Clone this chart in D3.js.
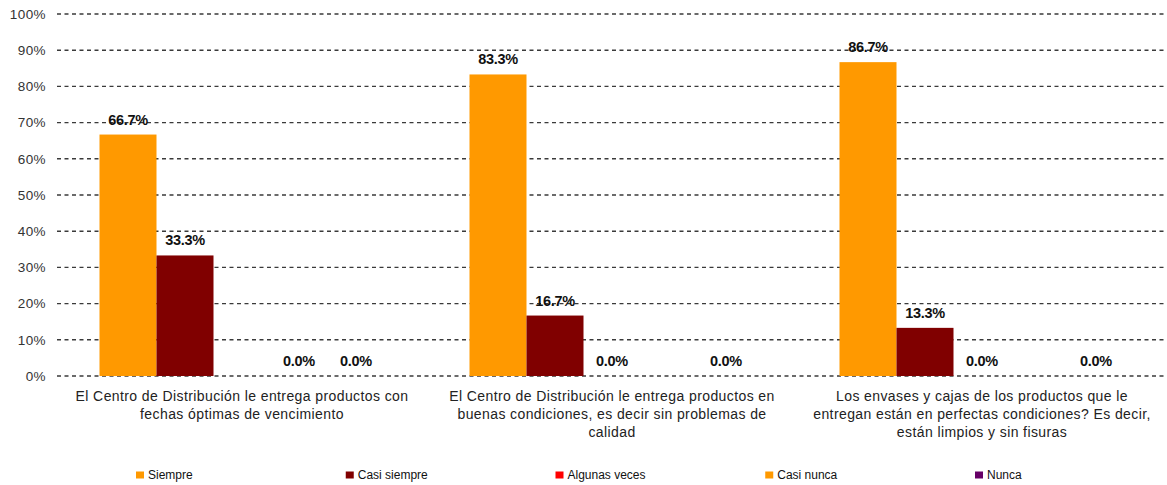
<!DOCTYPE html>
<html>
<head>
<meta charset="utf-8">
<script src="https://cdn.jsdelivr.net/npm/d3@7"></script>
<style>
  html, body { margin: 0; padding: 0; background: #fff; }
  svg { display: block; font-family: "Liberation Sans", Arial, sans-serif; }
</style>
</head>
<body>
<svg id="chart" width="1167" height="485"></svg>
<script>
// Questions (category labels, one entry per line)
const categories = [
  ["El Centro de Distribución le entrega productos con", "fechas óptimas de vencimiento"],
  ["El Centro de Distribución le entrega productos en", "buenas condiciones, es decir sin problemas de", "calidad"],
  ["Los envases y cajas de los productos que le", "entregan están en perfectas condiciones? Es decir,", "están limpios y sin fisuras"]
];

// Answer options and their colours
const seriesNames = ["Siempre", "Casi siempre", "Algunas veces", "Casi nunca", "Nunca"];
const seriesColors = ["#FF9900", "#800000", "#FF0000", "#FF9900", "#660066"];

// Share of answers per question (null = no answer recorded)
const siempre      = [0.667, 0.833, 0.867];
const casiSiempre  = [0.333, 0.167, 0.133];
const algunasVeces = [null, 0.0, 0.0];
const casiNunca    = [0.0, null, null];
const nunca        = [0.0, 0.0, 0.0];
const seriesValues = [siempre, casiSiempre, algunasVeces, casiNunca, nunca];

// Axis ticks
const yTicks = [0, 0.1, 0.2, 0.3, 0.4, 0.5, 0.6, 0.7, 0.8, 0.9, 1.0];

const svg = d3.select("#chart");

const x0 = d3.scaleBand()
  .domain(d3.range(categories.length))
  .range([57, 1167])
  .paddingInner(0).paddingOuter(0);

const x1 = d3.scaleBand()
  .domain(d3.range(seriesNames.length))
  .range([42.5, x0.bandwidth() - 42.5])
  .padding(0);

const y = d3.scaleLinear().domain([0, 1]).range([376, 14]);

const pct0 = d3.format(".0%");
const pct1 = d3.format(".1%");

// Dashed gridlines
svg.append("g")
  .selectAll("line")
  .data(yTicks)
  .join("line")
  .attr("x1", 57)
  .attr("x2", 1167)
  .attr("y1", d => y(d))
  .attr("y2", d => y(d))
  .attr("stroke", "#3a3a3a")
  .attr("stroke-width", 1.4)
  .attr("stroke-dasharray", "4,3.5");

// Y axis labels
svg.append("g")
  .selectAll("text")
  .data(yTicks)
  .join("text")
  .attr("x", 46)
  .attr("y", d => y(d))
  .attr("dy", "0.36em")
  .attr("text-anchor", "end")
  .attr("font-size", 13.5)
  .attr("letter-spacing", 0.4)
  .attr("fill", "#333")
  .text(d => pct0(d));

// Flatten bar data
const bars = [];
categories.forEach((c, ci) => {
  seriesNames.forEach((s, si) => {
    const v = seriesValues[si][ci];
    if (v !== null) bars.push({ ci, si, v });
  });
});

const gBars = svg.append("g");
gBars.selectAll("rect")
  .data(bars.filter(d => d.v > 0))
  .join("rect")
  .attr("x", d => x0(d.ci) + x1(d.si))
  .attr("y", d => y(d.v))
  .attr("width", x1.bandwidth())
  .attr("height", d => y(0) - y(d.v))
  .attr("fill", d => seriesColors[d.si]);

// Value labels
svg.append("g")
  .selectAll("text")
  .data(bars)
  .join("text")
  .attr("x", d => x0(d.ci) + x1(d.si) + x1.bandwidth() / 2)
  .attr("y", d => y(d.v) - 10)
  .attr("text-anchor", "middle")
  .attr("font-size", 14.5)
  .attr("font-weight", "bold")
  .attr("letter-spacing", -0.3)
  .attr("fill", "#111")
  .text(d => pct1(d.v));

// Category labels
const gCat = svg.append("g");
categories.forEach((lines, ci) => {
  const t = gCat.append("text")
    .attr("text-anchor", "middle")
    .attr("font-size", 14)
    .attr("letter-spacing", 0.4)
    .attr("fill", "#222");
  lines.forEach((ln, li) => {
    t.append("tspan")
      .attr("x", x0(ci) + x0.bandwidth() / 2)
      .attr("y", 401 + li * 18)
      .text(ln);
  });
});

// Legend
const legendX = d3.scalePoint()
  .domain(d3.range(seriesNames.length))
  .range([136, 975]);

const gLeg = svg.append("g");
const items = gLeg.selectAll("g")
  .data(seriesNames)
  .join("g")
  .attr("transform", (d, i) => `translate(${legendX(i)},0)`);
items.append("rect")
  .attr("x", 0)
  .attr("y", 471.5)
  .attr("width", 8)
  .attr("height", 7)
  .attr("fill", (d, i) => seriesColors[i]);
items.append("text")
  .attr("x", 12)
  .attr("y", 478.5)
  .attr("font-size", 12)
  .attr("fill", "#111")
  .text(d => d);
</script>
</body>
</html>
